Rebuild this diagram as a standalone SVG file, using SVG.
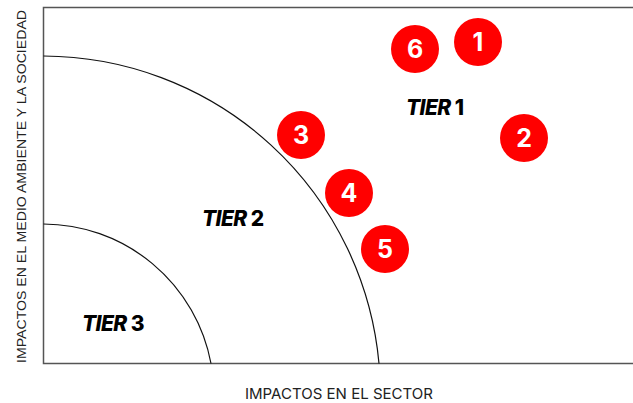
<svg xmlns="http://www.w3.org/2000/svg" width="633" height="403" viewBox="0 0 633 403">
<style>
.axis{fill:none;stroke:#555;stroke-width:1.5}
.arc{fill:none;stroke:#111;stroke-width:1.2}
.dot{fill:#ff0000}
.num{fill:#fff;font-family:Inter,"Liberation Sans",sans-serif;font-weight:700;font-size:25px;text-anchor:middle}
.tier{fill:#000;font-family:Inter,"Liberation Sans",sans-serif;font-weight:800;font-size:21px;letter-spacing:-0.6px}
.lbl{fill:#222;font-family:Inter,"Liberation Sans",sans-serif;font-size:15px}
.vlbl{fill:#222;font-family:"Liberation Sans",Arial,sans-serif;font-size:13.5px}
</style>
<rect width="633" height="403" fill="#fff"/>
<g id="axes">
<path class="axis" d="M633,7.5 H43.5 V363.5 H633"/>
</g>
<g id="zones">
<path class="arc" d="M43.5,56 A338,338 0 0 1 379,363.5"/>
<path class="arc" d="M43.5,224 A171,171 0 0 1 211,363.5"/>
</g>
<g id="labels">
<text class="tier" x="406" y="115"><tspan font-style="italic">TIER</tspan> 1</text>
<text class="tier" x="202" y="226"><tspan font-style="italic">TIER</tspan> 2</text>
<text class="tier" x="82" y="331"><tspan font-style="italic">TIER</tspan> 3</text>
<text class="lbl" x="339" y="399" text-anchor="middle" textLength="188" lengthAdjust="spacingAndGlyphs">IMPACTOS EN EL SECTOR</text>
<text class="vlbl" transform="translate(26,363) rotate(-90)" x="0" y="0" textLength="353" lengthAdjust="spacingAndGlyphs">IMPACTOS EN EL MEDIO AMBIENTE Y LA SOCIEDAD</text>
</g>
<g id="node-1"><circle class="dot" cx="478" cy="42" r="24"/><text class="num" x="478" y="51">1</text></g>
<g id="node-2"><circle class="dot" cx="524" cy="138" r="24"/><text class="num" x="524" y="147">2</text></g>
<g id="node-3"><circle class="dot" cx="301" cy="135" r="24"/><text class="num" x="301" y="144">3</text></g>
<g id="node-4"><circle class="dot" cx="349" cy="193" r="24"/><text class="num" x="349" y="202">4</text></g>
<g id="node-5"><circle class="dot" cx="385" cy="249" r="24"/><text class="num" x="385" y="258">5</text></g>
<g id="node-6"><circle class="dot" cx="415" cy="49" r="24"/><text class="num" x="415" y="58">6</text></g>
<g id="connectors"></g>
</svg>
